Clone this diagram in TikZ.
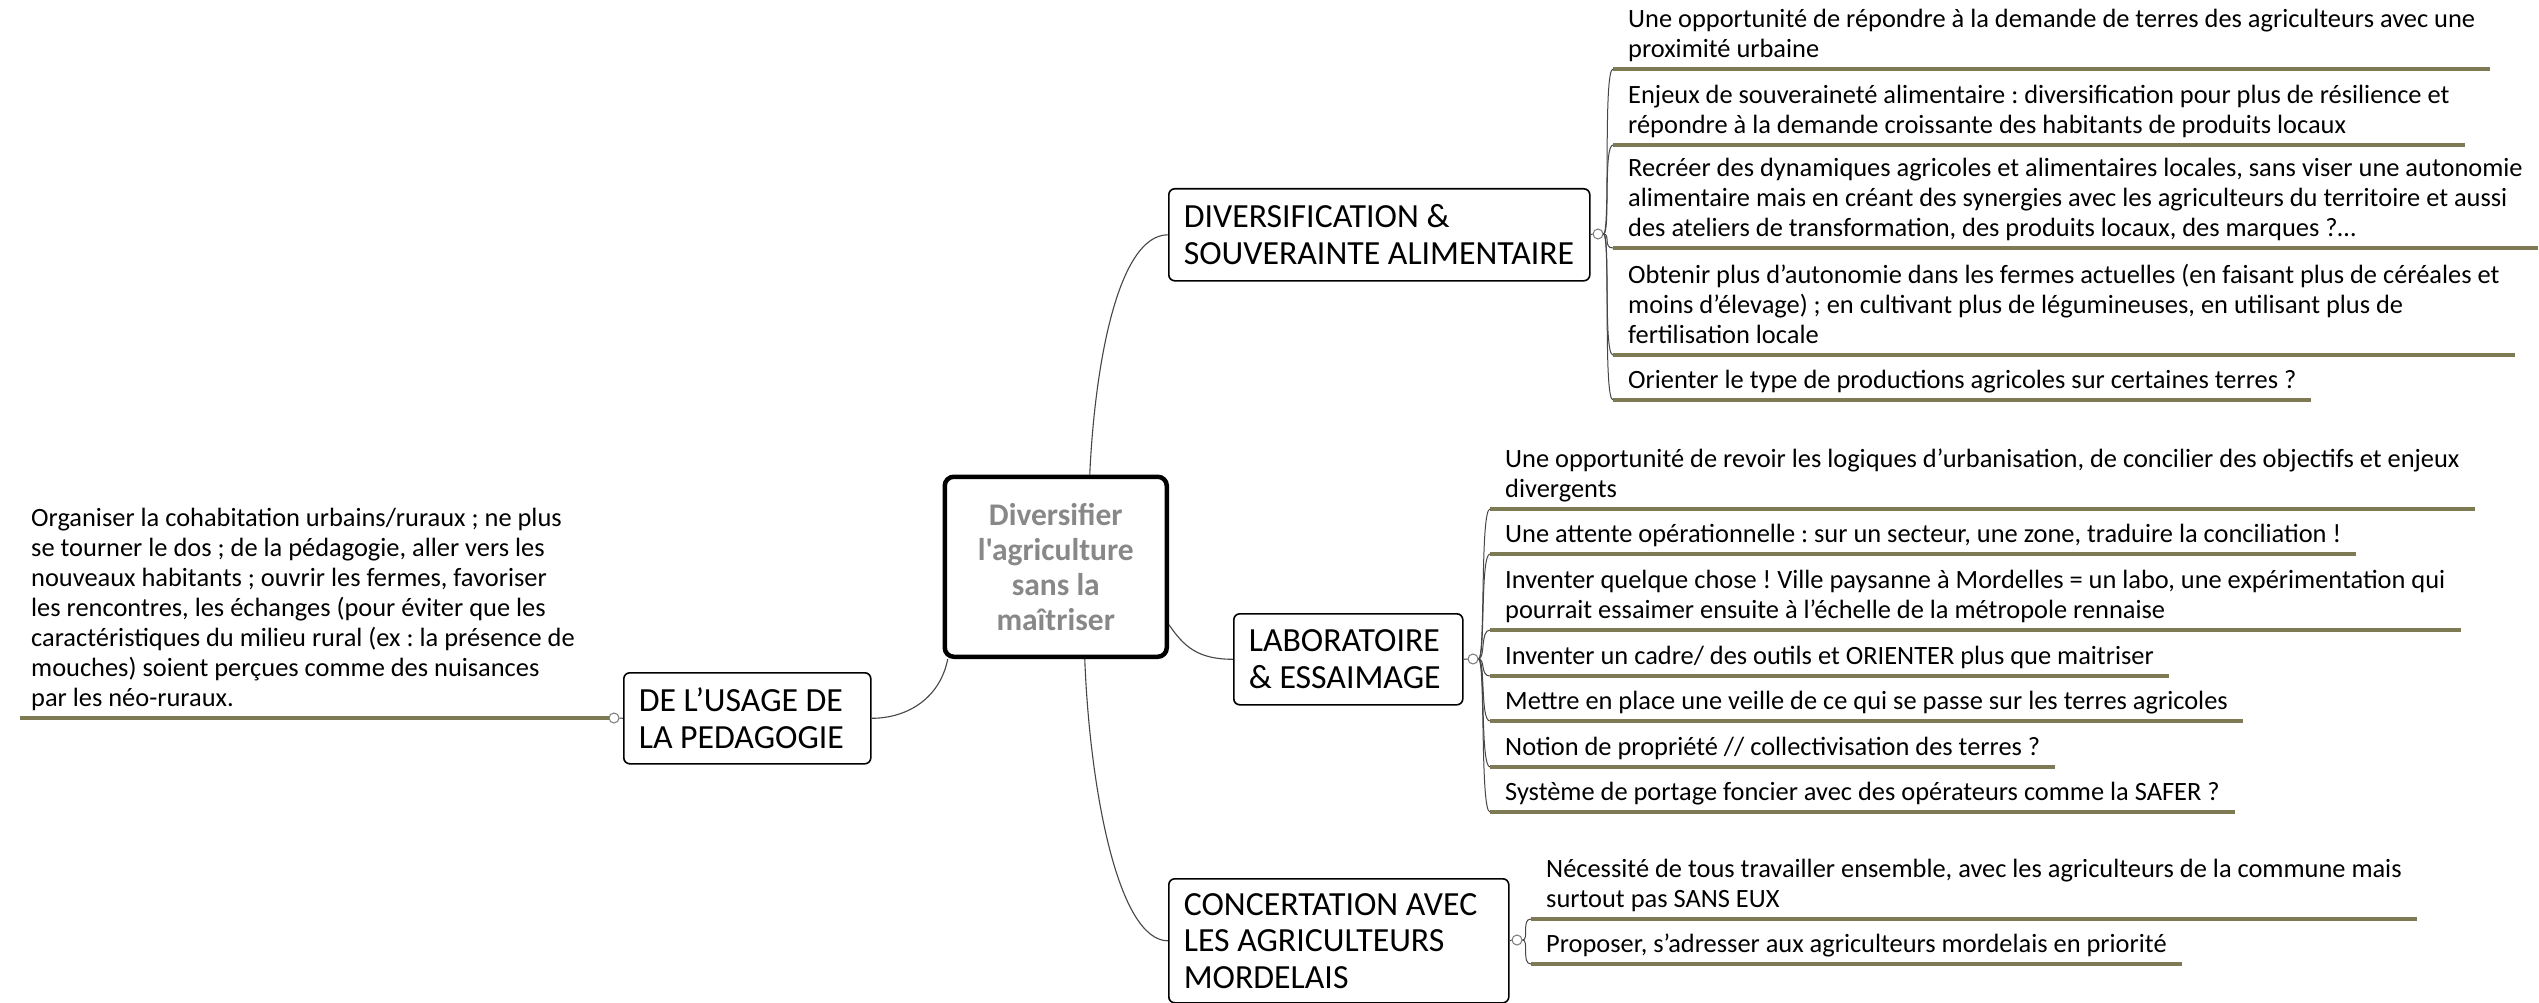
\documentclass[tikz,border=0pt]{standalone}
\usepackage{fontspec}
\setmainfont{Carlito}[Ligatures={TeXOff,Common}]
\definecolor{ulcol}{RGB}{125,122,84}
\definecolor{linkcol}{RGB}{70,70,70}
\definecolor{centraltext}{RGB}{136,136,136}
\definecolor{knobcol}{RGB}{120,120,120}
\begin{document}
\frenchspacing
\begin{tikzpicture}[x=1pt,y=-1pt,
  leaf/.style={anchor=south west, inner xsep=15pt, inner ysep=2pt, align=left, font=\fontsize{26.4}{30}\selectfont},
  uline/.style={draw=ulcol, line width=4pt},
  branchbox/.style={draw=black, line width=1.6pt, rounded corners=6pt, align=flush left, font=\fontsize{33.8}{36.5}\selectfont, inner xsep=15pt, inner ysep=0pt, anchor=north west},
  knob/.style={circle, draw=knobcol, fill=white, line width=1pt, minimum size=10pt, inner sep=0pt},
  link/.style={draw=linkcol, line width=1.1pt},
  leaflink/.style={draw=linkcol, line width=1pt},
]
\useasboundingbox[fill=white] (0,0) rectangle (2539,1003);

% central topic
\node[draw=black, line width=4.5pt, rounded corners=9pt, minimum width=222pt, minimum height=180pt, text width=200pt, align=flush center, font=\bfseries\fontsize{31.5}{35}\selectfont, text=centraltext, anchor=north west] (c) at (942.5,474.5) {Diversifier\\l'agriculture\\sans la\\maîtriser};

% branch boxes
\node[branchbox, text width=391pt, minimum height=92pt] (b1) at (1168,188) {DIVERSIFICATION \&\\SOUVERAINTE ALIMENTAIRE};
\node[branchbox, text width=199pt, minimum height=91pt] (b2) at (1233,613) {LABORATOIRE\\\& ESSAIMAGE};
\node[branchbox, text width=310pt, minimum height=124pt] (b3) at (1168,878) {CONCERTATION AVEC\\LES AGRICULTEURS\\MORDELAIS};
\node[branchbox, text width=217pt, minimum height=91pt] (b4) at (623,672) {DE L’USAGE DE\\LA PEDAGOGIE};

% connectors centre -> branches
\draw[link] ([xshift=34pt]c.north) .. controls +(5,-110) and +(-50,0) .. (b1.west);
\draw[link] ([yshift=-58pt]c.east) .. controls +(15,22) and +(-35,0) .. (b2.west);
\draw[link] ([xshift=29pt]c.south) .. controls +(5,130) and +(-50,0) .. (b3.west);
\draw[link] ([xshift=-108pt]c.south) .. controls +(-8,40) and +(35,0) .. (b4.east);

% knobs
\node[knob] (k1) at (1598,234) {};
\node[knob] (k2) at (1473,659) {};
\node[knob] (k3) at (1517,940) {};
\node[knob] (k4) at (614,718) {};
\draw[leaflink] (b1.east) -- (k1.west);
\draw[leaflink] (b2.east) -- (k2.west);
\draw[leaflink] (b3.east) -- (k3.west);
\draw[leaflink] (b4.west) -- (k4.east);

% branch 1 leaves
\node[leaf] (l1) at (1613,69) {Une opportunité de répondre à la demande de terres des agriculteurs avec une\\proximité urbaine\strut};
\node[leaf] (l2) at (1613,145) {Enjeux de souveraineté alimentaire : diversification pour plus de résilience et\\répondre à la demande croissante des habitants de produits locaux\strut};
\node[leaf] (l3) at (1613,248) {Recréer des dynamiques agricoles et alimentaires locales, sans viser une autonomie\\alimentaire mais en créant des synergies avec les agriculteurs du territoire et aussi\\des ateliers de transformation, des produits locaux, des marques ?…\strut};
\node[leaf] (l4) at (1613,355) {Obtenir plus d’autonomie dans les fermes actuelles (en faisant plus de céréales et\\moins d’élevage) ; en cultivant plus de légumineuses, en utilisant plus de\\fertilisation locale\strut};
\node[leaf] (l5) at (1613,400) {Orienter le type de productions agricoles sur certaines terres ?\strut};
\foreach \n in {l1,l2,l3,l4,l5}{
  \draw[uline] (\n.south west) -- (\n.south east);
  \draw[leaflink] (k1.east) .. controls +(7,0) and +(-10,0) .. (\n.south west);
}

% branch 2 leaves
\node[leaf] (m1) at (1490,509) {Une opportunité de revoir les logiques d’urbanisation, de concilier des objectifs et enjeux\\divergents\strut};
\node[leaf] (m2) at (1490,554) {Une attente opérationnelle : sur un secteur, une zone, traduire la conciliation !\strut};
\node[leaf] (m3) at (1490,630) {Inventer quelque chose ! Ville paysanne à Mordelles = un labo, une expérimentation qui\\pourrait essaimer ensuite à l’échelle de la métropole rennaise\strut};
\node[leaf] (m4) at (1490,676) {Inventer un cadre/ des outils et ORIENTER plus que maitriser\strut};
\node[leaf] (m5) at (1490,721) {Mettre en place une veille de ce qui se passe sur les terres agricoles\strut};
\node[leaf] (m6) at (1490,767) {Notion de propriété // collectivisation des terres ?\strut};
\node[leaf] (m7) at (1490,812) {Système de portage foncier avec des opérateurs comme la SAFER ?\strut};
\foreach \n in {m1,m2,m3,m4,m5,m6,m7}{
  \draw[uline] (\n.south west) -- (\n.south east);
  \draw[leaflink] (k2.east) .. controls +(7,0) and +(-10,0) .. (\n.south west);
}

% branch 3 leaves
\node[leaf] (n1) at (1531,919) {Nécessité de tous travailler ensemble, avec les agriculteurs de la commune mais\\surtout pas SANS EUX\strut};
\node[leaf] (n2) at (1531,964) {Proposer, s’adresser aux agriculteurs mordelais en priorité\strut};
\foreach \n in {n1,n2}{
  \draw[uline] (\n.south west) -- (\n.south east);
  \draw[leaflink] (k3.east) .. controls +(7,0) and +(-10,0) .. (\n.south west);
}

% left leaf
\node[leaf, inner xsep=11pt] (p1) at (20,718) {Organiser la cohabitation urbains/ruraux ; ne plus\\se tourner le dos ; de la pédagogie, aller vers les\\nouveaux habitants ; ouvrir les fermes, favoriser\\les rencontres, les échanges (pour éviter que les\\caractéristiques du milieu rural (ex : la présence de\\mouches) soient perçues comme des nuisances\\par les néo-ruraux.\strut};
\draw[uline] (p1.south west) -- (k4.west);
\end{tikzpicture}
\end{document}
